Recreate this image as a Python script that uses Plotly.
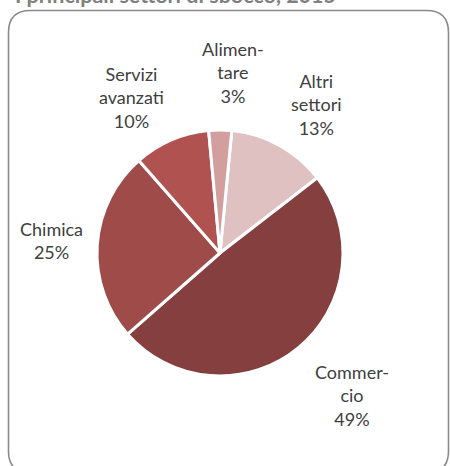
import plotly.graph_objects as go

# Data
categories = ["Altri settori", "Commercio", "Chimica", "Servizi avanzati", "Alimentare"]
display_labels = ["Altri<br>settori", "Commer-<br>cio", "Chimica", "Servizi<br>avanzati", "Alimen-<br>tare"]
shares = [13, 49, 25, 10, 3]
colors = ["#DFC1C2", "#853F3E", "#9E4B49", "#B05350", "#D39F9E"]
title_text = "I principali settori di sbocco, 2015"

W, H = 450, 466

def px(x):
    return x / W

def py(y):
    return 1 - y / H

# pie geometry (pixels)
cx, cy, r = 220, 253, 123

# label centers (pixels)
label_pos = [(316, 104), (352, 395), (51, 240.5), (131, 97.5), (233, 73)]

fig = go.Figure()
fig.add_trace(go.Pie(
    labels=categories,
    values=shares,
    sort=False,
    direction="clockwise",
    rotation=5.5,
    marker=dict(colors=colors, line=dict(color="white", width=3)),
    textinfo="none",
    hoverinfo="label+percent",
    showlegend=False,
    domain=dict(x=[px(cx - r), px(cx + r)], y=[py(cy + r), py(cy - r)]),
))

font_family = "Lato, 'Open Sans', sans-serif"
for lab, val, (lx, ly) in zip(display_labels, shares, label_pos):
    fig.add_annotation(
        x=px(lx), y=py(ly), xref="paper", yref="paper",
        text=f"{lab}<br>{val}%", showarrow=False,
        xanchor="center", yanchor="middle", align="center",
        font=dict(family=font_family, size=18, color="#404040"),
    )

# title (partly above the visible area, as in the reference)
fig.add_annotation(
    x=px(13), y=py(-4.5), xref="paper", yref="paper",
    text=f"<b>{title_text}</b>", showarrow=False,
    xanchor="left", yanchor="middle",
    font=dict(family=font_family, size=21.5, color="#808080"),
)

# rounded frame
L, R, T, B, rad = 8.5, 448.5, 10.5, 473, 22
path = (
    f"M {px(L)},{py(T + rad)} "
    f"Q {px(L)},{py(T)} {px(L + rad)},{py(T)} "
    f"L {px(R - rad)},{py(T)} "
    f"Q {px(R)},{py(T)} {px(R)},{py(T + rad)} "
    f"L {px(R)},{py(B - rad)} "
    f"Q {px(R)},{py(B)} {px(R - rad)},{py(B)} "
    f"L {px(L + rad)},{py(B)} "
    f"Q {px(L)},{py(B)} {px(L)},{py(B - rad)} Z"
)
fig.add_shape(type="path", path=path, xref="paper", yref="paper",
              line=dict(color="#8A8A8A", width=1.6), layer="below")

fig.update_layout(
    width=W, height=H,
    margin=dict(l=0, r=0, t=0, b=0),
    paper_bgcolor="white", plot_bgcolor="white",
)

fig.write_html("out.html",
               config={"displayModeBar": False},
               post_script="document.body.style.margin='0';document.body.style.overflow='hidden';")
